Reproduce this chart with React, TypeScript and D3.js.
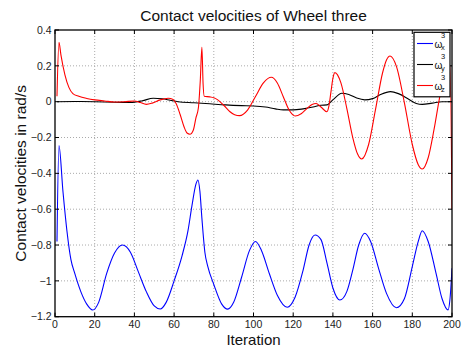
import React from "react";
import * as d3 from "d3";

const xTicks = [0, 20, 40, 60, 80, 100, 120, 140, 160, 180, 200];
const yTicks = [0.4, 0.2, 0, -0.2, -0.4, -0.6, -0.8, -1, -1.2];

const omegaX: [number, number][] = [
  [1, -0.78], [2, -0.245], [4, -0.5], [6, -0.72], [8, -0.88], [10, -0.96], [13, -1.06], [16, -1.13],
  [19, -1.163], [22, -1.12], [26, -0.96], [30, -0.845], [34, -0.8], [38, -0.84], [42, -0.95], [46, -1.06],
  [50, -1.14], [53, -1.157], [56, -1.12], [60, -1.0], [64, -0.86], [67, -0.72], [69, -0.58], [71, -0.46],
  [72, -0.437], [73, -0.5], [74, -0.65], [75.5, -0.84], [77, -0.92], [80, -1.02], [84, -1.13], [87, -1.158],
  [90, -1.12], [94, -0.98], [98, -0.83], [101, -0.78], [104, -0.83], [108, -0.96], [112, -1.08], [117, -1.147],
  [121, -1.09], [125, -0.94], [128, -0.8], [131, -0.744], [134, -0.77], [137, -0.9], [140, -1.04], [143.5, -1.107],
  [147, -1.06], [150, -0.94], [153, -0.8], [156, -0.734], [159, -0.78], [163, -0.93], [167, -1.07], [172, -1.15],
  [176, -1.1], [180, -0.92], [183, -0.78], [185, -0.72], [188, -0.78], [192, -0.96], [195, -1.1], [198, -1.162],
  [199, -1.1], [200, -0.93],
];

const omegaY: [number, number][] = [
  [1, 0], [10, 0.001], [20, 0.0], [30, -0.003], [38, -0.004], [44, 0.005], [49.5, 0.019], [54, 0.016],
  [58, 0.008], [62, 0.0], [70, -0.006], [78, -0.012], [86, -0.018], [94, -0.022], [100, -0.024], [106, -0.03],
  [111, -0.04], [115, -0.046], [120, -0.046], [125, -0.04], [130, -0.03], [134, -0.02], [137, -0.018], [140, 0.01],
  [144.5, 0.047], [148, 0.04], [152, 0.02], [156, 0.01], [160, 0.017], [164, 0.04], [169, 0.056], [173, 0.045],
  [178, 0.015], [182, -0.01], [185, -0.015], [190, -0.008], [195, 0.0], [200, 0.0],
];

const omegaZ: [number, number][] = [
  [1, 0.03], [2, 0.331], [3, 0.26], [5, 0.15], [7, 0.08], [9, 0.045], [12, 0.03], [16, 0.018], [20, 0.01],
  [25, 0.004], [30, -0.002], [35, 0.0], [40, 0.004], [43, -0.005], [46, -0.015], [49, -0.008], [53, 0.01],
  [57, 0.019], [59.5, 0.012], [61, -0.01], [63, -0.07], [65, -0.14], [66.5, -0.175], [68, -0.182], [69.7, -0.158],
  [71, -0.09], [72.2, -0.037], [73.2, 0.12], [74, 0.304], [74.6, 0.1], [75.2, 0.03], [78, 0.027], [80, 0.022],
  [82, 0.01], [85, -0.02], [88, -0.055], [90.5, -0.073], [93, -0.078], [97, -0.047], [101, 0.029], [105, 0.105],
  [109, 0.136], [112, 0.104], [115, 0.028], [118, -0.048], [121, -0.08], [124, -0.067], [127, -0.037],
  [129.5, -0.016], [131.5, -0.01], [134, -0.03], [137, -0.056], [138, -0.024], [139, 0.053], [140, 0.13],
  [141, 0.162], [144, 0.106], [147, -0.037], [150, -0.2], [152.5, -0.294], [154.5, -0.32], [158, -0.239],
  [161.5, -0.042], [165, 0.16], [167, 0.233], [168.8, 0.255], [172, 0.197], [176, -0.005], [180, -0.239],
  [183, -0.352], [185, -0.376], [188, -0.313], [191, -0.152], [194, 0.037], [197, 0.171], [199, 0.2], [200, -0.6],
];

const seriesNames = ["x", "y", "z"];
const seriesColors = ["#0000ff", "#000000", "#ff0000"];

const font = "'Liberation Sans', Arial, Helvetica, sans-serif";

export default function App() {
  const left = 55, right = 452, top = 30, bottom = 316.7;
  const x = d3.scaleLinear().domain([0, 200]).range([left, right]);
  const y = d3.scaleLinear().domain([-1.2, 0.4]).range([bottom, top]);
  const line = d3
    .line<[number, number]>()
    .x((d) => x(d[0]))
    .y((d) => y(d[1]))
    .curve(d3.curveMonotoneX);
  const data = [omegaX, omegaY, omegaZ];
  const fmt = (v: number) => (v < 0 ? "\u2212" + String(Math.abs(v)) : String(v));
  const tick = 4;
  const legendY = [43.5, 64.5, 85.5];

  return (
    <svg width={462} height={352} style={{ position: "absolute", left: 0, top: 0, background: "#fff" }} fontFamily={font}>
      <rect x={0} y={0} width={462} height={352} fill="#fff" />
      <defs>
        <clipPath id="plotclip">
          <rect x={left} y={top} width={right - left} height={bottom - top} />
        </clipPath>
      </defs>
      {/* grid */}
      {xTicks.slice(1, -1).map((t) => (
        <line key={"gx" + t} x1={x(t)} x2={x(t)} y1={top} y2={bottom} stroke="#aaa" strokeWidth={1} strokeDasharray="1,2" />
      ))}
      {yTicks.slice(1, -1).map((t) => (
        <line key={"gy" + t} x1={left} x2={right} y1={y(t)} y2={y(t)} stroke="#aaa" strokeWidth={1} strokeDasharray="1,2" />
      ))}
      {/* series */}
      <g clipPath="url(#plotclip)">
        {data.map((d, i) => (
          <path key={i} d={line(d) || ""} fill="none" stroke={seriesColors[i]} strokeWidth={1.1} />
        ))}
      </g>
      {/* box */}
      <rect x={left} y={top} width={right - left} height={bottom - top} fill="none" stroke="#000" strokeWidth={1.3} />
      {/* ticks */}
      {xTicks.map((t) => (
        <g key={"tx" + t}>
          <line x1={x(t)} x2={x(t)} y1={bottom} y2={bottom - tick} stroke="#000" strokeWidth={1} />
          <line x1={x(t)} x2={x(t)} y1={top} y2={top + tick} stroke="#000" strokeWidth={1} />
          <text x={x(t)} y={328} fontSize={10.5} textAnchor="middle" fill="#222">
            {fmt(t)}
          </text>
        </g>
      ))}
      {yTicks.map((t) => (
        <g key={"ty" + t}>
          <line x1={left} x2={left + tick} y1={y(t)} y2={y(t)} stroke="#000" strokeWidth={1} />
          <line x1={right} x2={right - tick} y1={y(t)} y2={y(t)} stroke="#000" strokeWidth={1} />
          <text x={51.5} y={y(t) + 3.7} fontSize={10.5} textAnchor="end" fill="#222">
            {fmt(t)}
          </text>
        </g>
      ))}
      {/* titles */}
      <text x={(left + right) / 2} y={21} fontSize={15.5} textAnchor="middle" fill="#111">
        Contact velocities of Wheel three
      </text>
      <text x={(left + right) / 2} y={344.5} fontSize={15} textAnchor="middle" fill="#111">
        Iteration
      </text>
      <text transform={`translate(26,${(top + bottom) / 2}) rotate(-90)`} fontSize={15.5} textAnchor="middle" fill="#111">
        Contact velocities in rad/s
      </text>
      {/* legend */}
      <rect x={414} y={32.3} width={36} height={64.5} fill="#fff" stroke="#000" strokeWidth={1.2} />
      {seriesNames.map((n, i) => (
        <g key={"lg" + n}>
          <line x1={417} x2={433} y1={legendY[i]} y2={legendY[i]} stroke={seriesColors[i]} strokeWidth={1.1} />
          <text x={434.5} y={legendY[i] + 4} fontSize={10} fill="#111">ω</text>
          <text x={441} y={legendY[i] - 6} fontSize={7.5} fill="#111">3</text>
          <text x={441} y={legendY[i] + 6.5} fontSize={7.5} fill="#111">{n}</text>
        </g>
      ))}
    </svg>
  );
}
